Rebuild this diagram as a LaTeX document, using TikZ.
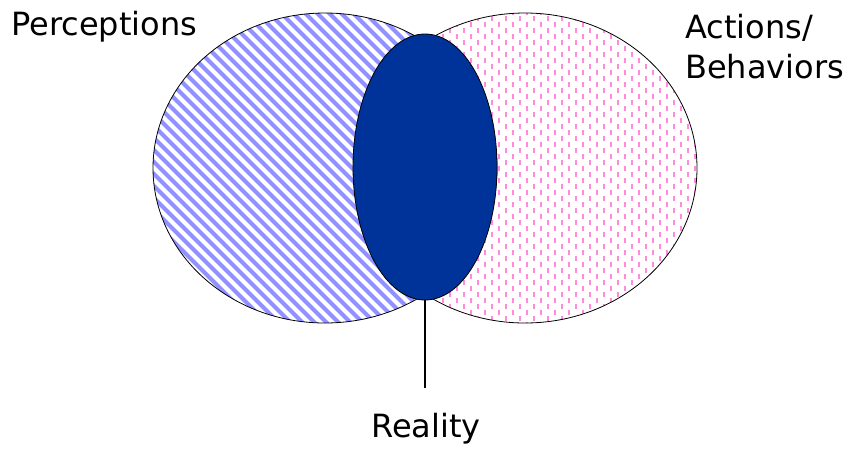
\documentclass[tikz,border=0pt]{standalone}
\usepackage{fontspec}
\setmainfont{DejaVu Sans}
\usetikzlibrary{shapes.geometric}
\definecolor{realblue}{RGB}{0,51,153}
\definecolor{percblue}{RGB}{145,145,255}
\definecolor{actpink}{RGB}{255,140,218}

\begin{document}
\begin{tikzpicture}[x=1pt,y=-1pt,
  lbl/.style={font=\fontsize{32}{38}\selectfont, inner sep=0pt},
  stripe/.style={percblue, line width=4pt},
  dashline/.style={actpink, line width=1.3pt, dash pattern=on 5pt off 7pt}]
\useasboundingbox (0,0) rectangle (850,448);
% actions circle
\fill[white] (525,168) ellipse (172 and 155);
\begin{scope}
\clip (525,168) ellipse (172 and 155);
\foreach \x in {345,359,...,700} \draw[dashline] (\x,10) -- (\x,330);
\foreach \x in {352,366,...,700} \draw[dashline, dash phase=6pt] (\x,10) -- (\x,330);
\end{scope}
\draw[line width=0.8pt] (525,168) ellipse (172 and 155);
% perceptions circle
\fill[white] (325,168) ellipse (172 and 155);
\begin{scope}
\clip (325,168) ellipse (172 and 155);
\foreach \x in {-200,-188,...,500} \draw[stripe] (\x,0) -- ++(340,340);
\end{scope}
\draw[line width=0.8pt] (325,168) ellipse (172 and 155);
% reality
\node[ellipse, draw, line width=0.8pt, fill=realblue, minimum width=144pt, minimum height=266pt, inner sep=0pt] (real) at (425,167) {};
\coordinate (tick) at (425,388);
\draw[line width=2.5pt] (real.south) -- (tick);
\node[lbl, anchor=base] (reality) at (426,437) {Reality};
\node[lbl, anchor=base west] (perc) at (11,35) {Perceptions};
\node[lbl, anchor=base west] (act) at (685,38) {Actions/};
\node[lbl, anchor=base west] (beh) at (685,78) {Behaviors};
\end{tikzpicture}
\end{document}
